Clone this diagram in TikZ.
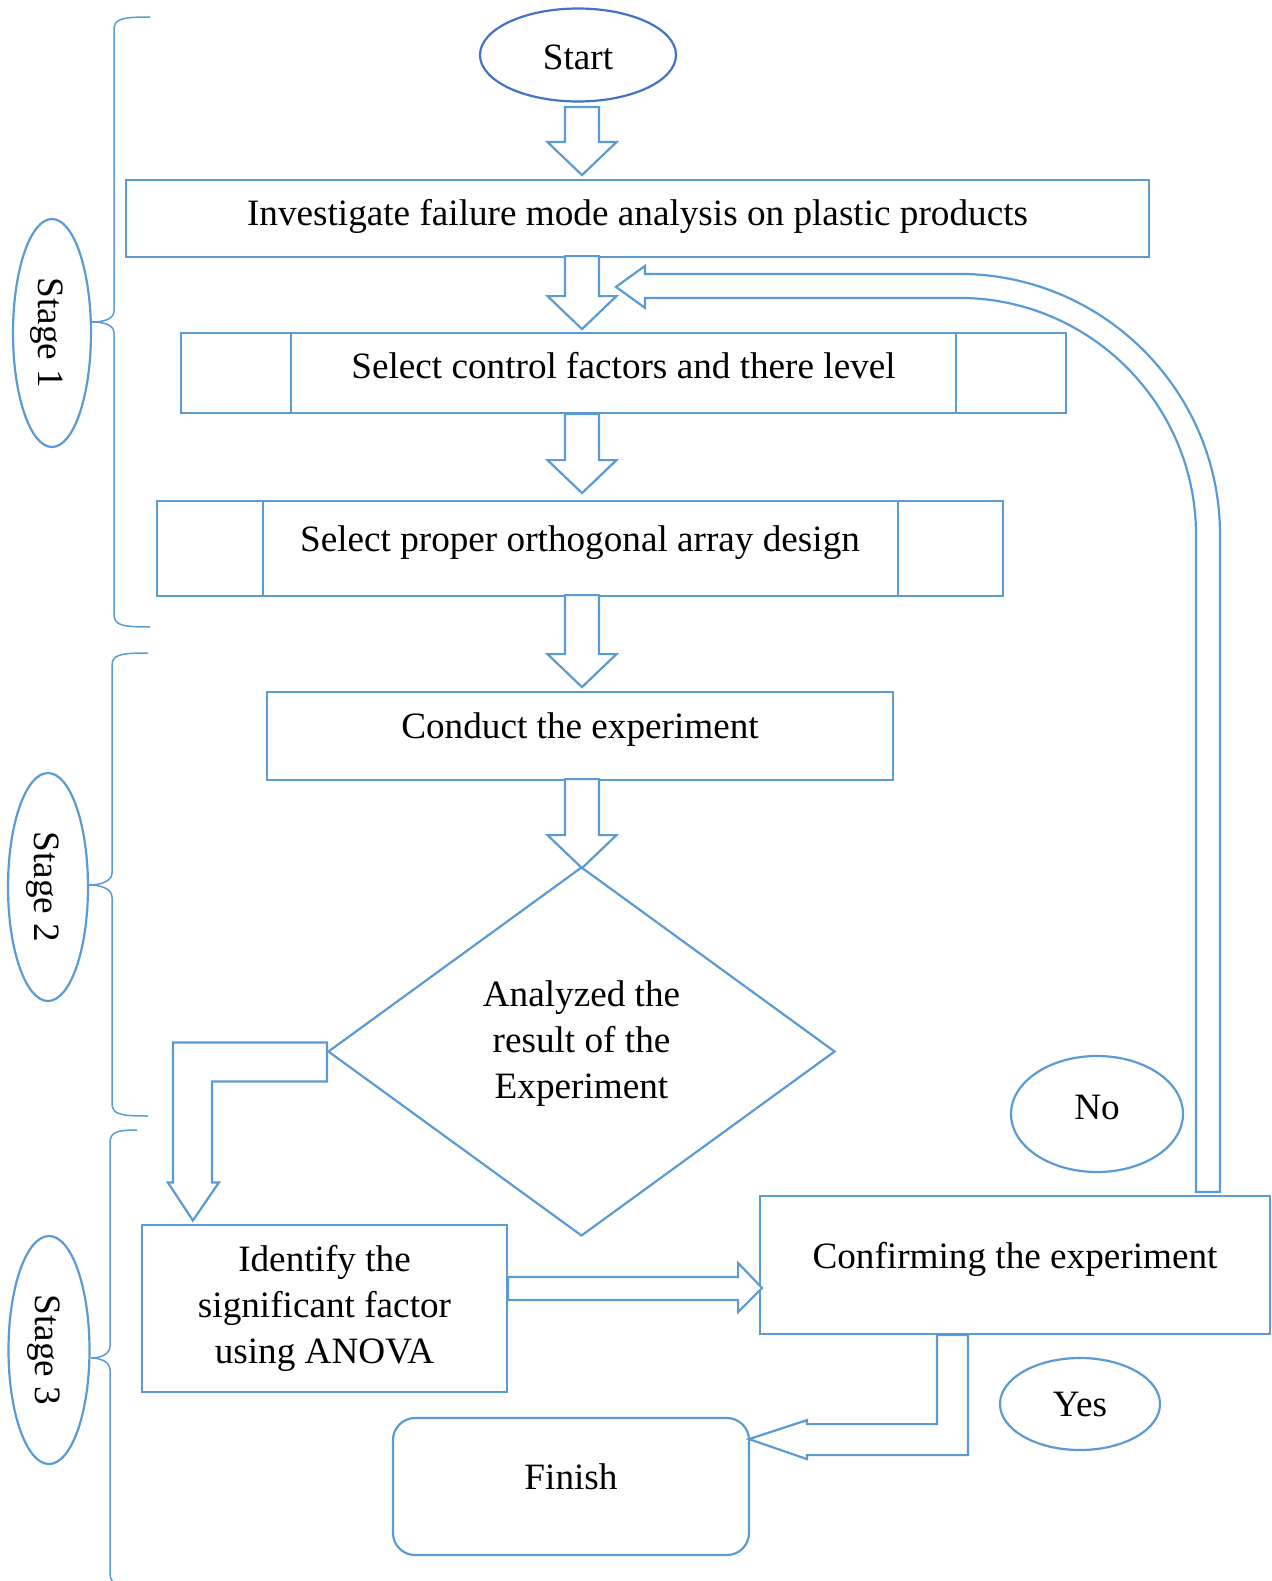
\documentclass[tikz,border=0pt]{standalone}
\usepackage{fontspec}
\setmainfont{Liberation Serif}
\usetikzlibrary{calc,shapes.geometric}
\definecolor{myblue}{RGB}{91,155,213}
\definecolor{startblue}{RGB}{68,114,196}
\newcommand{\downblock}[3]{% top anchor, offset, shaft length
  \draw[barrow] ($(axis |- #1)+(-17,#2)$) -- ++(0,#3) -- ++(-17.5,0)
    -- ++(34.5,33) -- ++(34.5,-33) -- ++(-17.5,0) -- ++(0,-#3) -- cycle;}

\begin{document}
\begin{tikzpicture}[x=1pt,y=-1pt,font=\fontsize{37.2}{46}\selectfont,
  box/.style={draw=myblue,line width=2.2pt,rectangle,inner sep=0pt},
  oval/.style={draw=myblue,line width=2.2pt,ellipse,inner sep=0pt},
  stage/.style={oval,rotate=-90,minimum width=228,minimum height=78,text height=36pt},
  barrow/.style={draw=myblue,line width=2.2pt,fill=white},
  brace/.style={draw=myblue,line width=1.5pt}]
  \useasboundingbox (0,0) rectangle (1271,1581);
  \coordinate (axis) at (582,0);

  \node[oval,draw=startblue,minimum width=196,minimum height=93,text height=29pt] (start)
    at (578,55) {Start};
  \node[box,minimum width=1023,minimum height=77,text depth=12pt] (inv) at (637.5,218.5)
    {Investigate failure mode analysis on plastic products};
  \node[box,minimum width=885,minimum height=80,text depth=16pt] (sel) at (623.5,373)
    {Select control factors and there level};
  \node[box,minimum width=846,minimum height=95,text depth=20pt] (arr) at (580,548.5)
    {Select proper orthogonal array design};
  \node[box,minimum width=626,minimum height=88,text depth=20pt] (cond) at (580,736)
    {Conduct the experiment};
  \node[diamond,draw=myblue,line width=2.2pt,inner sep=0pt,align=center,text depth=24pt,
    minimum width=507,minimum height=369] (dia) at (581.5,1051.5)
    {Analyzed the\\result of the\\Experiment};
  \node[box,align=center,minimum width=365,minimum height=167] (ident) at (324.5,1308.5)
    {Identify the\\significant factor\\using ANOVA};
  \node[box,minimum width=510,minimum height=138,text depth=20pt] (conf) at (1015,1265)
    {Confirming the experiment};
  \node[box,rounded corners=22pt,minimum width=356,minimum height=137,text depth=20pt] (fin)
    at (571,1486.5) {Finish};
  \node[oval,minimum width=172,minimum height=116,text depth=14pt] (no) at (1097,1114) {No};
  \node[oval,minimum width=160,minimum height=92] (yes) at (1080,1404) {Yes};

  % side bars of the two sub-process boxes
  \draw[box] ([xshift=111pt]sel.north west) -- ([xshift=111pt]sel.south west)
    ([xshift=-111pt]sel.north east) -- ([xshift=-111pt]sel.south east)
    ([xshift=107pt]arr.north west) -- ([xshift=107pt]arr.south west)
    ([xshift=-106pt]arr.north east) -- ([xshift=-106pt]arr.south east);

  % straight block arrows down the middle
  \downblock{start.south}{4.5}{35}
  \downblock{inv.south}{-2}{40}
  \downblock{sel.south}{0}{46}
  \downblock{arr.south}{-2}{59}
  \downblock{cond.south}{-2}{56}

  % bent arrows
  \draw[barrow] ($(dia.west)+(0,-9)$) -- ++(-154,0) -- ++(0,140) -- ++(-5,0) -- ++(25,38)
    -- ++(26,-38) -- ++(-7,0) -- ++(0,-101) -- ++(115,0) -- cycle;
  \draw[barrow] ($(ident.east)+(0,-31.5)$) -- ++(230,0) -- ++(0,-14) -- ++(24,25)
    -- ++(-24,24) -- ++(0,-12) -- ++(-230,0) -- cycle;
  \draw[barrow] ($(conf.south)+(-78,0)$) -- ++(0,89) -- ++(-130,0) -- ++(0,-4) -- ++(-58,19)
    -- ++(58,20) -- ++(0,-4) -- ++(161,0) -- ++(0,-120) -- cycle;

  % loop back when the result is not confirmed
  \draw[barrow] ($(conf.north)+(181,-3)$) -- ++(0,-657)
    arc[start angle=0,end angle=90,radius=237pt] -- ++(-314,0) -- ++(0,10)
    -- ++(-29,-21) coordinate (loop) -- ++(29,-21) -- ++(0,8) -- ++(314,0)
    arc[start angle=90,end angle=0,radius=261pt] -- ++(0,657) -- cycle;

  % stages
  \node[stage] (s1) at (52,333) {Stage 1};
  \node[stage,minimum height=80] (s2) at (48,887) {Stage 2};
  \node[stage,minimum height=81] (s3) at (49,1350) {Stage 3};

  \draw[brace] (150,17) .. controls (121,17) and (114,19) .. (114,30) -- (114,311)
    .. controls (114,319) and (104,322) .. (92,322) .. controls (104,322) and (114,325) .. (114,333)
    -- (114,614) .. controls (114,625) and (121,627) .. (150,627);
  \draw[brace] (148,653) .. controls (119,653) and (112,655) .. (112,666) -- (112,873)
    .. controls (112,881) and (101,885) .. (89,885) .. controls (101,885) and (112,889) .. (112,897)
    -- (112,1103) .. controls (112,1114) and (119,1116) .. (148,1116);
  \draw[brace] (137,1130) .. controls (117,1130) and (110,1132) .. (110,1143) -- (110,1346)
    .. controls (110,1354) and (101,1358) .. (91,1358) .. controls (101,1358) and (110,1362) .. (110,1370)
    -- (110,1573) .. controls (110,1584) and (117,1586) .. (137,1586);
\end{tikzpicture}
\end{document}
